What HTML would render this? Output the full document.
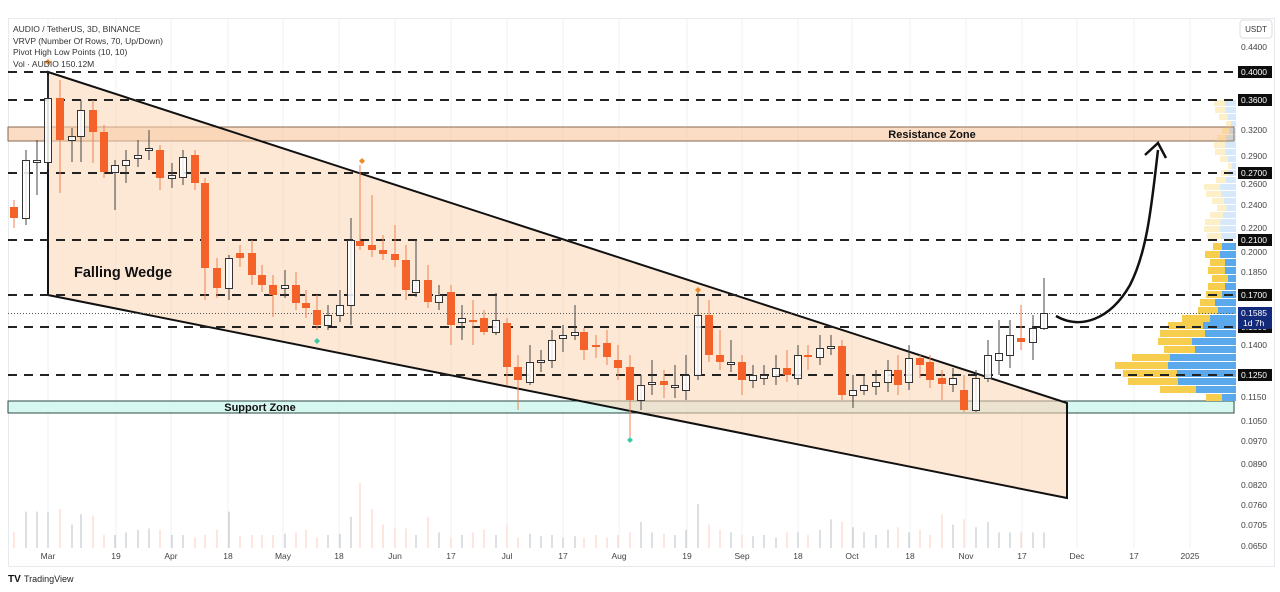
<!DOCTYPE html>
<html><head><meta charset="utf-8"><style>
html,body{margin:0;padding:0;background:#fff;width:1280px;height:592px;overflow:hidden;font-family:"Liberation Sans",sans-serif}
svg{display:block}
</style></head><body>
<svg id="s" width="1280" height="592" xmlns="http://www.w3.org/2000/svg" font-family="Liberation Sans, sans-serif">
<rect x="0" y="0" width="1280" height="592" fill="#fff"/>
<rect x="8.5" y="18.5" width="1266" height="548" fill="none" stroke="#e6e9ee"/>
<g id="grid" stroke="#eef0f3" stroke-width="1"></g>
<rect x="8" y="127" width="1226" height="14" fill="#f9c9a4" fill-opacity="0.65" stroke="#8a6a50" stroke-width="1"/>
<rect x="8" y="401" width="1226" height="12" fill="#cdf5ee" fill-opacity="0.8" stroke="#2e4a44" stroke-width="1"/>
<polygon points="48,72 1067,403 1067,498 48,295" fill="#fbd3b3" fill-opacity="0.55" stroke="#111" stroke-width="2"/>
<g id="vol"></g>
<g id="vp"></g>
<g id="dash" stroke="#222" stroke-width="2" stroke-dasharray="9,7"></g>
<line x1="8" y1="313.5" x2="1234" y2="313.5" stroke="#555" stroke-width="1" stroke-dasharray="1,2"/>
<g id="c"></g>
<text x="74" y="277" font-size="14.5" font-weight="bold" fill="#111">Falling Wedge</text>
<text x="932" y="138" font-size="11" font-weight="bold" text-anchor="middle" fill="#111">Resistance Zone</text>
<text x="260" y="411" font-size="11" font-weight="bold" text-anchor="middle" fill="#111">Support Zone</text>
<path d="M362,158 l3,3 l-3,3 l-3,-3z" fill="#f08a24"/>
<path d="M698,287 l3,3 l-3,3 l-3,-3z" fill="#f08a24"/>
<path d="M48,59 l3,3 l-3,3 l-3,-3z" fill="#f08a24"/>
<path d="M317,338 l3,3 l-3,3 l-3,-3z" fill="#3cc9a8"/>
<path d="M630,437 l3,3 l-3,3 l-3,-3z" fill="#3cc9a8"/>
<path d="M1056,316 C1080,330 1110,320 1130,285 C1148,250 1152,200 1158,150" fill="none" stroke="#111" stroke-width="2.5"/>
<path d="M1145,155 L1158,143 L1166,158" fill="none" stroke="#111" stroke-width="2.5"/>
<g font-size="8.5" fill="#333">
<text x="13" y="32">AUDIO / TetherUS, 3D, BINANCE</text>
<text x="13" y="44">VRVP (Number Of Rows, 70, Up/Down)</text>
<text x="13" y="55">Pivot High Low Points (10, 10)</text>
<text x="13" y="67">Vol · AUDIO  150.12M</text>
</g>
<g id="ax" font-size="8.5" fill="#444"></g>
<g id="xl" font-size="8.5" fill="#444" text-anchor="middle"></g>
<rect x="1240" y="20" width="32" height="18" rx="3" fill="#fff" stroke="#ddd"/>
<text x="1256" y="32" font-size="8" text-anchor="middle" fill="#333">USDT</text>
<text x="8" y="582" font-size="10" font-weight="bold" fill="#111">TV</text>
<text x="24" y="582" font-size="9" fill="#222">TradingView</text>
</svg>
<script>
var NS="http://www.w3.org/2000/svg";
function el(p,t,a,txt){var e=document.createElementNS(NS,t);for(var k in a)e.setAttribute(k,a[k]);if(txt)e.textContent=txt;document.getElementById(p).appendChild(e);return e;}
var xl=[["Mar",48],["19",116],["Apr",171],["18",228],["May",283],["18",339],["Jun",395],["17",451],["Jul",507],["17",563],["Aug",619],["19",687],["Sep",742],["18",798],["Oct",852],["18",910],["Nov",966],["17",1022],["Dec",1077],["17",1134],["2025",1190]];
xl.forEach(function(l){el("grid","line",{x1:l[1],y1:19,x2:l[1],y2:548});el("xl","text",{x:l[1],y:559},l[0]);});
[[72,"0.4000"],[100,"0.3600"],[173,"0.2700"],[240,"0.2100"],[295,"0.1700"],[327,"0.1500"],[375,"0.1250"]].forEach(function(d){
el("dash","line",{x1:8,y1:d[0],x2:1234,y2:d[0]});
el("ax","rect",{x:1238,y:d[0]-6,width:34,height:12,fill:"#0d0d0d"});
el("ax","text",{x:1241,y:d[0]+3,fill:"#fff"},d[1]);});
el("ax","rect",{x:1238,y:307,width:34,height:22,fill:"#132a7a"});
el("ax","text",{x:1241,y:316,fill:"#fff"},"0.1585");
el("ax","text",{x:1243,y:326,fill:"#fff"},"1d 7h");
[[47,"0.4400"],[130,"0.3200"],[156,"0.2900"],[184,"0.2600"],[205,"0.2400"],[228,"0.2200"],[252,"0.2000"],[272,"0.1850"],[345,"0.1400"],[397,"0.1150"],[421,"0.1050"],[441,"0.0970"],[464,"0.0890"],[485,"0.0820"],[505,"0.0760"],[525,"0.0705"],[546,"0.0650"]].forEach(function(d){el("ax","text",{x:1241,y:d[0]+3},d[1]);});
var C=[[14,207,218,200,228],[26,218,160,150,225],[37,162,160,140,195],[48,162,98,75,170],[60,98,140,80,193],[72,140,136,128,162],[81,136,110,100,162],[93,110,132,100,163],[104,132,172,125,178],[115,172,165,160,210],[126,165,160,150,183],[138,158,155,140,167],[149,150,148,130,160],[160,150,178,145,190],[172,178,175,163,188],[183,177,157,150,185],[195,155,183,150,190],[205,183,268,178,300],[217,268,288,258,298],[229,288,258,255,300],[240,253,258,245,267],[252,253,275,240,285],[262,275,285,265,292],[273,285,295,275,317],[285,288,285,270,298],[296,285,303,272,310],[306,303,308,290,318],[317,310,325,295,330],[328,325,315,305,330],[340,315,305,290,322],[351,305,240,218,325],[360,241,246,165,250],[372,245,250,195,257],[383,250,254,235,260],[395,254,260,225,267],[406,260,290,245,300],[416,292,280,240,297],[428,280,302,265,308],[439,302,295,285,310],[451,292,325,285,345],[462,322,318,305,340],[473,320,321,300,345],[484,318,332,310,335],[496,332,320,293,335],[507,323,367,318,385],[518,367,380,355,410],[530,382,362,345,385],[541,362,360,350,372],[552,360,340,330,368],[563,338,335,325,352],[575,335,332,305,340],[584,332,350,328,360],[596,345,347,335,358],[607,343,357,330,365],[618,360,368,345,380],[630,367,400,355,437],[641,400,385,375,410],[652,383,382,360,395],[664,381,385,370,398],[675,385,385,365,398],[686,390,375,355,400],[698,375,315,290,380],[709,315,355,300,362],[720,355,362,330,370],[731,362,362,340,372],[742,362,380,355,395],[753,380,375,365,388],[764,378,375,365,385],[776,376,368,355,385],[787,368,375,350,382],[798,378,355,345,385],[808,355,357,345,370],[820,357,348,335,365],[831,348,346,335,355],[842,346,395,340,400],[853,395,390,375,408],[864,390,385,375,395],[876,386,382,370,395],[888,382,370,360,392],[898,370,385,355,395],[909,382,358,345,390],[920,358,365,355,378],[930,362,380,355,388],[942,378,384,370,400],[953,384,378,368,392],[964,390,410,375,412],[976,410,378,370,412],[988,378,355,340,382],[999,360,353,320,375],[1010,355,335,320,368],[1021,338,342,305,350],[1033,342,328,315,360],[1044,328,313,278,330]];
C.forEach(function(c,i){var x=c[0],o=c[1],cl=c[2],h=c[3],l=c[4];var bear=cl>o;
el("c","line",{x1:x,y1:h,x2:x,y2:l,stroke:bear?"#f08050":"#444","stroke-width":1});
var t=Math.min(o,cl),b=Math.max(o,cl);if(b-t<2)b=t+2;
if(bear)el("c","rect",{x:x-4,y:t,width:8,height:b-t,fill:"#f4622a"});
else el("c","rect",{x:x-3.5,y:t+.5,width:7,height:b-t,fill:"#fff","fill-opacity":0.85,stroke:"#333","stroke-width":1});
var vh=[12,28,28,28,30,18,26,25,10,10,12,14,15,14,10,10,8,10,14,28,9,10,10,10,11,12,14,8,10,11,24,50,30,18,15,15,10,24,12,8,10,12,14,10,18,8,11,9,10,8,9,8,10,8,10,12,20,12,11,10,14,34,18,14,12,10,9,10,8,12,12,10,14,22,20,16,12,10,14,16,12,14,10,26,18,22,16,20][i]||12;
el("vol","line",{x1:x,y1:548-vh*1.3,x2:x,y2:548,stroke:bear?"#f8cdbb":"#b8c0c7","stroke-width":1});
});
var VP=[[243,1213,1222],[251,1205,1220],[259,1210,1225],[267,1208,1225],[275,1212,1228],[283,1208,1225],[291,1206,1222],[299,1200,1215],[307,1198,1218],[315,1182,1210],[322,1168,1203],[330,1160,1205],[338,1158,1192],[346,1164,1195],[354,1132,1170],[362,1115,1168],[370,1123,1177],[378,1128,1178],[386,1160,1196],[394,1206,1222]];
VP.forEach(function(v){el("vp","rect",{x:v[1],y:v[0],width:v[2]-v[1],height:7,fill:"#f7cd4d"});el("vp","rect",{x:v[2],y:v[0],width:1236-v[2],height:7,fill:"#5aa9ec"});});
for(var y=100;y<240;y+=7){var w=8+Math.round(14*Math.abs(Math.sin(y/13)))+ (y>180?10:0);
el("vp","rect",{x:1236-w,y:y,width:w/2,height:6,fill:"#f7cd4d","fill-opacity":0.3});
el("vp","rect",{x:1236-w/2,y:y,width:w/2,height:6,fill:"#5aa9ec","fill-opacity":0.25});}
</script>
</body></html>
